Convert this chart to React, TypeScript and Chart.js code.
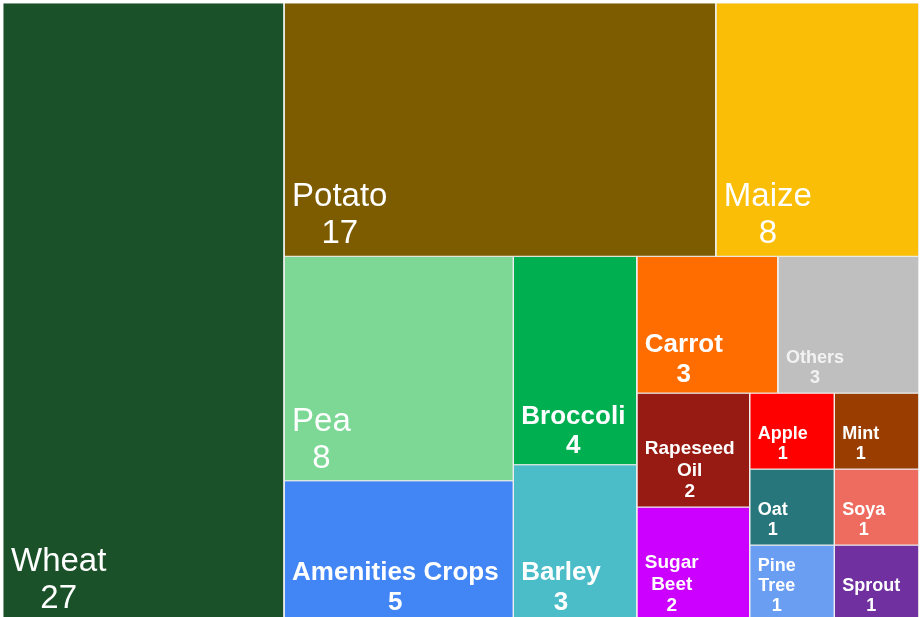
import React, { useEffect, useRef } from "react";
import { Chart, registerables } from "chart.js";

Chart.register(...registerables);

// ---- data ----
const categories = [
  "Wheat", "Potato", "Maize", "Pea", "Amenities Crops", "Broccoli", "Barley",
  "Carrot", "Others", "Rapeseed Oil", "Sugar Beet", "Apple", "Mint", "Oat",
  "Soya", "Pine Tree", "Sprout",
];
const values = [27, 17, 8, 8, 5, 4, 3, 3, 3, 2, 2, 1, 1, 1, 1, 1, 1];
const colors = [
  "#1B5129", "#7D5C00", "#F9BE05", "#7DD795", "#4285F4", "#00B050", "#4ABDC8",
  "#FF6D01", "#BFBFBF", "#971B12", "#CC00FF", "#FF0000", "#993D00", "#27767B",
  "#EE6B5F", "#6A9EF3", "#7030A0",
];

// ---- label styles ----
const FONT = '"Liberation Sans", Arial, Helvetica, sans-serif';
const large = { size: 33, bold: false, color: "#FFFFFF" };
const medium = { size: 26, bold: true, color: "#FFFFFF" };
const small2 = { size: 19, bold: true, color: "#FFFFFF" };
const small = { size: 18, bold: true, color: "#FFFFFF" };
const labelStyle: Record<string, { size: number; bold: boolean; color: string }> = {
  Wheat: large, Potato: large, Maize: large, Pea: large,
  "Amenities Crops": medium, Broccoli: medium, Barley: medium, Carrot: medium,
  Others: { size: 18, bold: true, color: "#F2F2F2" },
  "Rapeseed Oil": small2, "Sugar Beet": small2,
  Apple: small, Mint: small, Oat: small, Soya: small, "Pine Tree": small, Sprout: small,
};

// ---- layout parameters (strip orientation per strip, squarify threshold) ----
const stripDirections = ["col", "row", "col", "col", "row", "col", "row", "row", "row"];
const IMPROVE = 1.3;
const PAD = { left: 3, top: 3, right: 1, bottom: 0 };
const BORDER = "#EEEEEE";

type Rect = { x: number; y: number; w: number; h: number };

const sum = (a: number[]) => a.reduce((s, v) => s + v, 0);

function worst(items: number[], side: number, unit: number) {
  const thick = (sum(items) * unit) / side;
  let w = 0;
  for (const v of items) {
    const len = (v * unit) / thick;
    w = Math.max(w, len / thick, thick / len);
  }
  return w;
}

function layoutTreemap(vals: number[], W: number, H: number): Rect[] {
  const unit = (W * H) / sum(vals);
  let rx = 0, ry = 0, rw = W, rh = H;
  let i = 0, s = 0;
  const out: Rect[] = [];
  while (i < vals.length) {
    const dir = stripDirections[Math.min(s, stripDirections.length - 1)];
    const side = dir === "col" ? rh : rw;
    let n = 1;
    while (i + n < vals.length) {
      const cur = worst(vals.slice(i, i + n), side, unit);
      const nxt = worst(vals.slice(i, i + n + 1), side, unit);
      if (cur / nxt >= IMPROVE) n++;
      else break;
    }
    const items = vals.slice(i, i + n);
    const sItems = sum(items);
    const thick = (sItems * unit) / side;
    if (dir === "col") {
      let cy = ry;
      for (const v of items) {
        const ih = (rh * v) / sItems;
        out.push({ x: rx, y: cy, w: thick, h: ih });
        cy += ih;
      }
      rx += thick; rw -= thick;
    } else {
      let cx = rx;
      for (const v of items) {
        const iw = (rw * v) / sItems;
        out.push({ x: cx, y: ry, w: iw, h: thick });
        cx += iw;
      }
      ry += thick; rh -= thick;
    }
    i += n; s++;
  }
  return out;
}

function wrapText(ctx: CanvasRenderingContext2D, text: string, maxW: number) {
  const words = text.split(" ");
  const lines: string[] = [];
  let cur = "";
  for (const w of words) {
    const t = cur ? cur + " " + w : w;
    if (cur && ctx.measureText(t).width > maxW) {
      lines.push(cur);
      cur = w;
    } else cur = t;
  }
  if (cur) lines.push(cur);
  return lines;
}

export default function App() {
  const ref = useRef<HTMLCanvasElement>(null);
  useEffect(() => {
    const canvas = ref.current!;
    const parent = canvas.parentElement!;
    const W = parent.clientWidth - PAD.left - PAD.right;
    const H = parent.clientHeight - PAD.top - PAD.bottom;
    const rects = layoutTreemap(values, W, H);

    const datasets = rects.map((r, i) => ({
      label: categories[i],
      data: [
        { x: r.x, y: r.y },
        { x: r.x + r.w, y: r.y },
        { x: r.x + r.w, y: r.y + r.h },
        { x: r.x, y: r.y + r.h },
        { x: r.x, y: r.y },
      ],
      showLine: true,
      fill: "shape",
      backgroundColor: colors[i],
      borderColor: BORDER,
      borderWidth: 1,
      pointRadius: 0,
      pointHoverRadius: 0,
      tension: 0,
    }));

    const labelPlugin = {
      id: "treemapLabels",
      afterDatasetsDraw(chart: any) {
        const ctx: CanvasRenderingContext2D = chart.ctx;
        const xs = chart.scales.x;
        const ys = chart.scales.y;
        rects.forEach((r, i) => {
          const left = xs.getPixelForValue(r.x);
          const right = xs.getPixelForValue(r.x + r.w);
          const bottom = ys.getPixelForValue(r.y + r.h);
          const st = labelStyle[categories[i]];
          ctx.save();
          ctx.font = `${st.bold ? "bold " : ""}${st.size}px ${FONT}`;
          const padX = 8;
          const lines = wrapText(ctx, categories[i], right - left - 2 * padX);
          lines.push(String(values[i]));
          const blockW = Math.max(...lines.map((l) => ctx.measureText(l).width));
          const cx = left + padX + blockW / 2;
          const lh = st.size * 1.12;
          let base = bottom - 6 - st.size * 0.21;
          ctx.fillStyle = st.color;
          ctx.textAlign = "center";
          ctx.textBaseline = "alphabetic";
          for (let k = lines.length - 1; k >= 0; k--) {
            ctx.fillText(lines[k], cx, base);
            base -= lh;
          }
          ctx.restore();
        });
      },
    };

    const chart = new Chart(canvas, {
      type: "scatter",
      data: { datasets: datasets as any },
      options: {
        animation: false,
        responsive: true,
        maintainAspectRatio: false,
        events: [],
        layout: { padding: PAD },
        scales: {
          x: { type: "linear", min: 0, max: W, display: false },
          y: { type: "linear", min: 0, max: H, reverse: true, display: false },
        },
        plugins: {
          legend: { display: false },
          tooltip: { enabled: false },
        },
      },
      plugins: [labelPlugin],
    });
    return () => chart.destroy();
  }, []);

  return (
    <div
      style={{
        position: "fixed",
        left: 0,
        top: 0,
        width: "100vw",
        height: "calc(100vh + 4px)",
        background: "#FFFFFF",
      }}
    >
      <canvas ref={ref} />
    </div>
  );
}
